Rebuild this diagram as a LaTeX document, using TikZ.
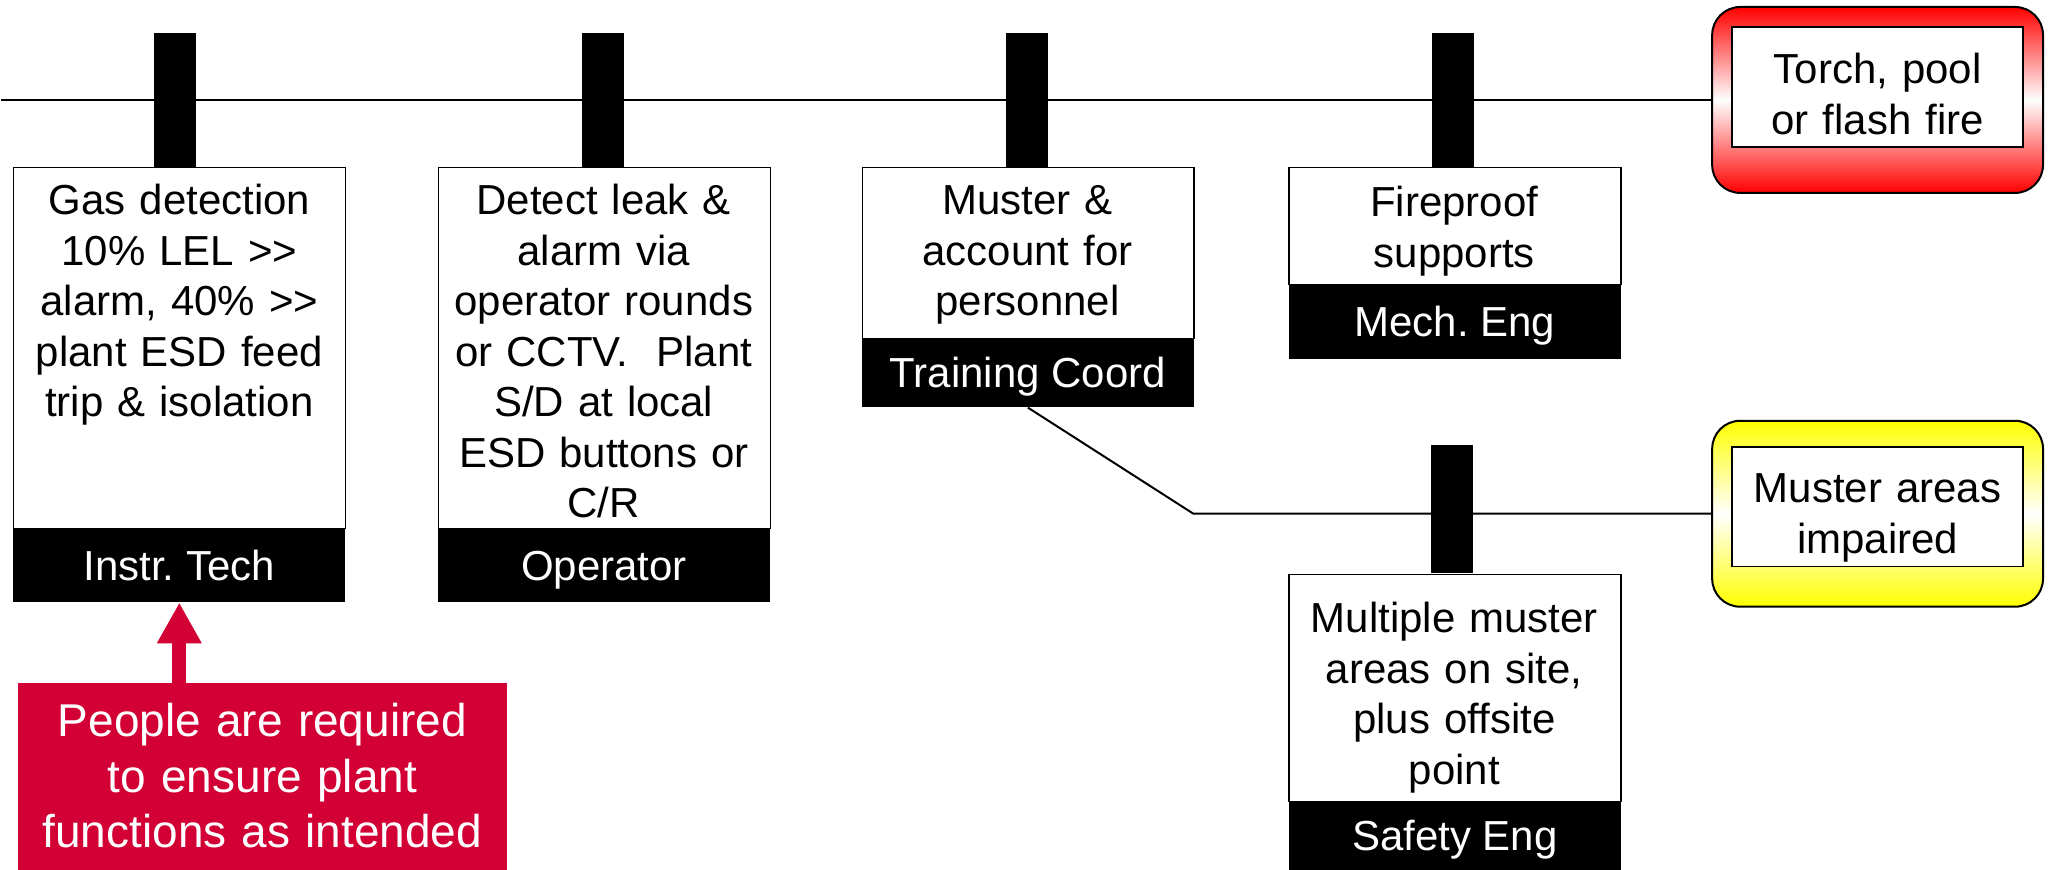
\documentclass[tikz,border=0pt]{standalone}
\usepackage{fontspec}
\setmainfont{Liberation Sans}
\usetikzlibrary{arrows.meta,calc}

\definecolor{calloutred}{RGB}{210,0,52}

\begin{document}
\begin{tikzpicture}[x=0.5pt,y=-0.5pt,
  wire/.style={line width=1pt, draw=black},
  body/.style={draw=black, line width=0.75pt, fill=white, anchor=north west,
    inner sep=0pt, minimum width=166pt},
  band/.style={fill=black, text=white, anchor=north west, inner sep=0pt,
    minimum width=166pt, text height=15pt, text depth=0pt,
    font=\fontsize{21}{25}\selectfont},
  peg/.style={fill=black, anchor=south, inner sep=0pt, minimum width=21pt},
  bodytext/.style={anchor=base, inner sep=0pt, text width=160pt, align=center,
    font=\fontsize{21}{25.25}\selectfont},
  outcome/.style={draw=black, line width=1pt, rounded corners=14pt, inner sep=0pt,
    minimum width=165.5pt, minimum height=93pt},
  outcomeinner/.style={draw=black, line width=0.75pt, fill=white, inner sep=0pt,
    minimum width=145.5pt, minimum height=60pt},
  outcometext/.style={anchor=base, inner sep=0pt, text width=140pt, align=center,
    font=\fontsize{21}{25.5}\selectfont}
]
% canvas
\path[fill=white] (0,0) rectangle (2054,870);

% outcome boxes on the right
\node[outcome, top color=red, bottom color=red, middle color=white] (fire) at (1877.5,100) {};
\node[outcomeinner] (fireinner) at (1877.5,87) {};
\node[outcometext] (firetext) at (1877.5,84) {Torch, pool\\or flash fire};

\node[outcome, top color=yellow, bottom color=yellow, middle color=white] (muster) at (1877.5,514) {};
\node[outcomeinner] (musterinner) at (1877.5,507) {};
\node[outcometext] (mustertext) at (1877.5,503) {Muster areas\\impaired};

% main event line
\coordinate (start) at (0,100);
\draw[wire] (start) -- (fire.west);

% barrier 1
\node[peg, minimum height=67pt] (peg1) at (174,167) {};
\node[body, minimum height=180.5pt] (body1) at (12,167) {};
\node[band, minimum height=37pt] (band1) at (12,528) {Instr.\ Tech};
\node[bodytext] (text1) at (178.5,215) {Gas detection\\10\% LEL >{}>\\alarm, 40\% >{}>\\plant ESD feed\\trip \& isolation};

% barrier 2
\node[peg, minimum height=67pt] (peg2) at (602.5,167) {};
\node[body, minimum height=180.5pt] (body2) at (437,167) {};
\node[band, minimum height=37pt] (band2) at (437,528) {Operator};
\node[bodytext] (text2) at (603,215) {Detect leak \&\\alarm via\\operator rounds\\or CCTV.~~Plant\\S/D at local\\ESD buttons or\\C/R};

% barrier 3
\node[peg, minimum height=67pt] (peg3) at (1026.5,167) {};
\node[body, minimum height=85.5pt] (body3) at (861,167) {};
\node[band, minimum height=34.5pt] (band3) at (861,338) {Training Coord};
\node[bodytext] (text3) at (1027,215) {Muster \&\\account for\\personnel};

% barrier 4
\node[peg, minimum height=67pt] (peg4) at (1453,167) {};
\node[body, minimum height=58.5pt] (body4) at (1288,167) {};
\node[band, minimum height=37.5pt] (band4) at (1288,284) {Mech.\ Eng};
\node[bodytext] (text4) at (1454,217) {Fireproof\\supports};

% branch to the muster outcome
\coordinate (bend) at (1193,514);
\draw[wire] (band3.south) -- (bend) -- (muster.west);

% barrier 5
\node[peg, minimum height=64pt] (peg5) at (1452,574) {};
\node[body, minimum height=113.5pt] (body5) at (1288,574) {};
\node[band, minimum height=34.5pt] (band5) at (1288,801) {Safety Eng};
\node[bodytext] (text5) at (1454,633) {Multiple muster\\areas on site,\\plus offsite\\point};

% callout
\node[fill=calloutred, anchor=north west, inner sep=0pt, minimum width=244.5pt,
  minimum height=93.5pt] (callout) at (17,683) {};
\node[anchor=base, inner sep=0pt, text width=240pt, align=center, text=white,
  font=\fontsize{23}{27.75}\selectfont] (callouttext) at (261.5,737)
  {People are required\\to ensure plant\\functions as intended};
\draw[calloutred, line width=7pt, -{Triangle[width=21pt,length=20.5pt]}]
  (callout.north -| band1.south) -- (band1.south);
\end{tikzpicture}
\end{document}
